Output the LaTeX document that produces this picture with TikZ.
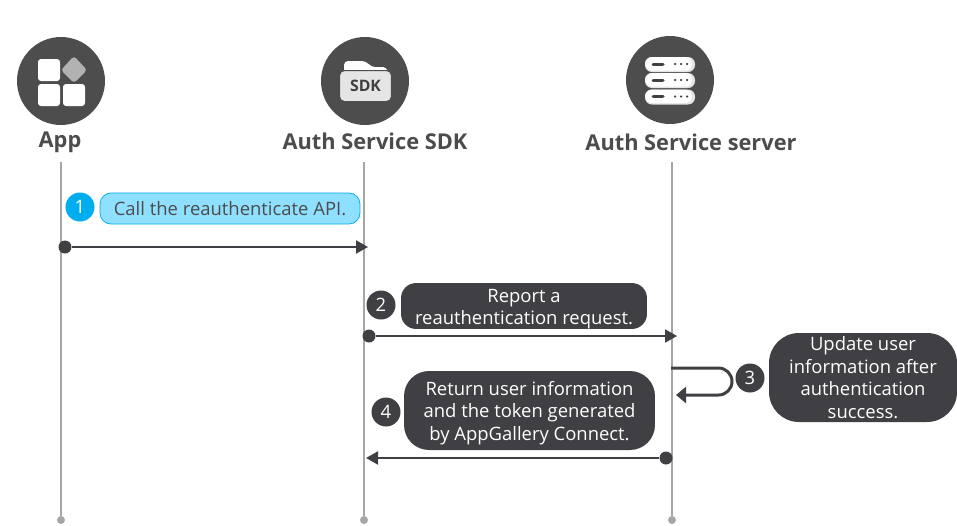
\documentclass[tikz,border=0pt]{standalone}
\usepackage{fontspec}
\setmainfont{Open Sans}
\usetikzlibrary{arrows.meta}

\definecolor{darkfill}{HTML}{3F3F44}
\definecolor{iconfill}{HTML}{4D4D4D}
\definecolor{lifegray}{HTML}{A6A6A6}
\definecolor{bluefill}{HTML}{8FDFFF}
\definecolor{blueedge}{HTML}{00AEEF}
\newcommand{\topgap}{\rule{0pt}{10.8pt}}

\begin{document}
\begin{tikzpicture}[
  x=0.02cm, y=-0.02cm,
  actor/.style={circle, fill=iconfill, minimum size=1.76cm, inner sep=0},
  actorlabel/.style={font=\fontsize{12.4}{15}\selectfont\bfseries, text=black!70, inner sep=0},
  tile/.style={fill=white, rounded corners=0.06cm},
  lifeline/.style={draw=lifegray, line width=0.04cm},
  enddot/.style={circle, fill=lifegray, minimum size=0.16cm, inner sep=0},
  startdot/.style={circle, fill=darkfill, minimum size=0.26cm, inner sep=0},
  msg/.style={draw=darkfill, line width=0.04cm, -{Triangle[length=0.24cm,width=0.26cm]}},
  selfmsg/.style={draw=darkfill, line width=0.06cm, rounded corners=0.27cm, -{Triangle[length=0.2cm,width=0.32cm]}},
  bubble/.style={fill=darkfill, text=white, align=center, inner sep=0, font=\fontsize{10.5}{12.8}\selectfont},
  stepnum/.style={circle, fill=darkfill, text=white, minimum size=0.58cm, inner sep=0, font=\fontsize{10.5}{12.8}\selectfont}
]
\useasboundingbox (0,0) rectangle (957,525);

% Actors
\node[actor] (App) at (61,81) {};
\node[actor] (SDK) at (365,81) {};
\node[actor] (Server) at (670,80) {};
\node[actorlabel] (AppLabel) at (60,142) {App};
\node[actorlabel] (SDKLabel) at (375,141) {Auth Service SDK};
\node[actorlabel] (ServerLabel) at (691,142) {Auth Service server};

% App icon
\fill[tile] (38,59) rectangle (60,81);
\fill[tile] (38,84) rectangle (60,106);
\fill[tile] (63,84) rectangle (85,106);
\fill[black!30, rounded corners=0.06cm] (74,56) -- (87,70) -- (74,83) -- (61,70) -- cycle;

% SDK icon
\fill[white, rounded corners=0.08cm] (344,73) -- (344,61) -- (366,61) -- (371,67) -- (387,67) -- (387,73) -- cycle;
\node[fill=black!10, draw=iconfill, line width=0.02cm, rounded corners=0.1cm, minimum width=1.04cm, minimum height=0.62cm, inner sep=0,
  text=black!75, font=\fontsize{9}{10}\selectfont\bfseries] (SDKFolder) at (365.5,86) {SDK};

% Server icon
\foreach \y in {64.5,80.5,97} {
  \fill[black!10, rounded corners=0.14cm] (645,\y-7.5) rectangle (695,\y+7.5);
  \fill[white, rounded corners=0.14cm] (645,\y-7.5) rectangle (692,\y+6);
  \draw[darkfill, line width=0.06cm, line cap=round] (653,\y-0.5) -- (663,\y-0.5);
  \foreach \x in {675,681,687} \fill[darkfill] (\x,\y-0.5) circle (0.025cm);
}

% Lifelines
\coordinate (AppTop) at (61,162);
\coordinate (SDKTop) at (364,162);
\coordinate (ServerTop) at (672,162);
\node[enddot] (AppEnd) at (61,520) {};
\node[enddot] (SDKEnd) at (364,520) {};
\node[enddot] (ServerEnd) at (672,520) {};
\draw[lifeline] (AppTop) -- (AppEnd);
\draw[lifeline] (SDKTop) -- (SDKEnd);
\draw[lifeline] (ServerTop) -- (ServerEnd);

% Step 1
\node[stepnum, fill=blueedge] (Num1) at (80,207) {1};
\node[bubble, fill=bluefill, draw=blueedge, line width=0.015cm, text=black!70, rounded corners=0.22cm,
  minimum width=5.2cm, minimum height=0.62cm] (Text1) at (230,208.5) {Call the reauthenticate API.};
\node[startdot] (Start1) at (65,247) {};
\coordinate (End1) at (368,247);
\draw[msg] (Start1) -- (End1);

% Step 2
\node[stepnum] (Num2) at (381,305) {2};
\node[bubble, rounded corners=0.3cm, minimum width=4.92cm, minimum height=0.88cm] (Text2) at (524,306) {\topgap Report a\\reauthentication request.};
\node[startdot] (Start2) at (369,336) {};
\coordinate (End2) at (677,336);
\draw[msg] (Start2) -- (End2);

% Step 3
\node[stepnum] (Num3) at (750,378) {3};
\node[bubble, rounded corners=0.6cm, minimum width=3.76cm, minimum height=1.78cm] (Text3) at (863,377.5) {Update user\\information after\\authentication\\success.};
\coordinate (Start3) at (671,368);
\coordinate (End3) at (676,395);
\draw[selfmsg] (Start3) -- (732,368) -- (732,395) -- (End3);

% Step 4
\node[stepnum] (Num4) at (386,412) {4};
\node[bubble, rounded corners=0.5cm, minimum width=5.02cm, minimum height=1.58cm] (Text4) at (529.5,410.5) {\topgap Return user information\\and the token generated\\by AppGallery Connect.};
\node[startdot] (Start4) at (666,458) {};
\coordinate (End4) at (366,458);
\draw[msg] (Start4) -- (End4);

\end{tikzpicture}
\end{document}
